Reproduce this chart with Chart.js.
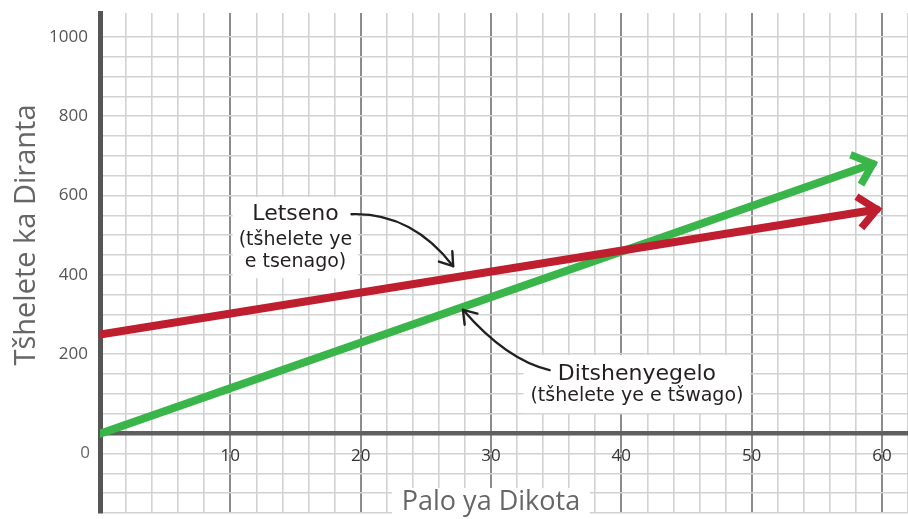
<!DOCTYPE html>
<html>
<head>
<meta charset="utf-8">
<script src="https://cdn.jsdelivr.net/npm/chart.js@4.4.1/dist/chart.umd.min.js"></script>
<style>
  html, body { margin: 0; padding: 0; background: #fff; }
  #wrap { width: 908px; height: 519px; }
</style>
</head>
<body>
<div id="wrap"><canvas id="chart" width="908" height="519"></canvas></div>
<script>
// axes
const X_MIN = 0, X_MAX = 62, X_STEP = 2;
const Y_MIN = -200, Y_MAX = 1060, Y_STEP = 50, Y_GRID_TOP = 1000;
const xTickLabels = [10, 20, 30, 40, 50, 60];
const yTickLabels = [200, 400, 600, 800, 1000];

// series (Palo ya Dikota -> Diranta)
const incomeX = [0, 59.6];
const incomeY = [250, 565];
const costX = [0, 59.3];
const costY = [0, 680];

const RED = "#BE1E2D";
const GREEN = "#39B54A";
const INK = "#231F20";

const toPoints = (xs, ys) => xs.map((x, i) => ({ x, y: ys[i] }));

function range(from, to, step) {
    const out = [];
    for (let v = from; v <= to + 1e-9; v += step) out.push(v);
    return out;
}

// chevron at the end of each line
const arrowHeads = {
    id: "arrowHeads",
    afterDatasetsDraw(chart) {
        const ctx = chart.ctx;
        chart.data.datasets.forEach((ds, i) => {
            const pts = chart.getDatasetMeta(i).data;
            const a = pts[pts.length - 2], b = pts[pts.length - 1];
            const ang = Math.atan2(b.y - a.y, b.x - a.x);
            const len = 24, spread = 0.72;
            ctx.save();
            ctx.strokeStyle = ds.borderColor;
            ctx.lineWidth = 7.5;
            ctx.lineJoin = "miter";
            ctx.lineCap = "butt";
            ctx.beginPath();
            ctx.moveTo(b.x - len * Math.cos(ang - spread), b.y - len * Math.sin(ang - spread));
            ctx.lineTo(b.x, b.y);
            ctx.lineTo(b.x - len * Math.cos(ang + spread), b.y - len * Math.sin(ang + spread));
            ctx.stroke();
            ctx.restore();
        });
    },
};

function openHead(ctx, x, y, ang, len) {
    ctx.beginPath();
    ctx.moveTo(x - len * Math.cos(ang - 0.6), y - len * Math.sin(ang - 0.6));
    ctx.lineTo(x, y);
    ctx.lineTo(x - len * Math.cos(ang + 0.6), y - len * Math.sin(ang + 0.6));
    ctx.stroke();
}

function boxedText(ctx, lines, cx, cy, pad) {
    let w = 0;
    lines.forEach(l => { ctx.font = l.font; w = Math.max(w, ctx.measureText(l.text).width); });
    const top = cy + lines[0].dy - lines[0].h / 2 - pad;
    const bottom = cy + lines[lines.length - 1].dy + lines[lines.length - 1].h / 2 + pad;
    ctx.fillStyle = "#fff";
    ctx.fillRect(cx - w / 2 - pad, top, w + 2 * pad, bottom - top);
    ctx.fillStyle = INK;
    ctx.textAlign = "center";
    ctx.textBaseline = "middle";
    lines.forEach(l => { ctx.font = l.font; ctx.fillText(l.text, cx, cy + l.dy); });
}

const notes = {
    id: "notes",
    beforeDatasetsDraw(chart) {
        const ctx = chart.ctx;
        const { x: sx, y: sy } = chart.scales;
        ctx.save();
        // x axis title on white box
        const tx = sx.getPixelForValue(30);
        const tb = chart.height;
        ctx.fillStyle = "#fff";
        ctx.fillRect(tx - 99, tb - 31, 198, 31);
        ctx.fillStyle = "#666";
        ctx.font = "27px 'Open Sans'";
        ctx.textAlign = "center";
        ctx.textBaseline = "alphabetic";
        ctx.fillText("Palo ya Dikota", tx, tb - 9);
        // y axis title
        ctx.translate(27, 235);
        ctx.rotate(-Math.PI / 2);
        ctx.textBaseline = "middle";
        ctx.font = "29px 'Open Sans'";
        ctx.fillText("Tšhelete ka Diranta", 0, 0);
        ctx.restore();

        ctx.save();
        // origin label
        ctx.fillStyle = "#666";
        ctx.font = "17px 'Open Sans'";
        ctx.textAlign = "center";
        ctx.textBaseline = "middle";
        ctx.fillText("0", sx.getPixelForValue(0) - 15, sy.getPixelForValue(0) + 20);

        // Letseno label
        boxedText(ctx, [
            { text: "Letseno", font: "22px 'DejaVu Sans'", dy: 0, h: 22 },
            { text: "(tšhelete ye", font: "19px 'DejaVu Sans'", dy: 26, h: 20 },
            { text: "e tsenago)", font: "19px 'DejaVu Sans'", dy: 48, h: 20 },
        ], sx.getPixelForValue(15), sy.getPixelForValue(553), 6);

        // Ditshenyegelo label
        boxedText(ctx, [
            { text: "Ditshenyegelo", font: "22px 'DejaVu Sans'", dy: 0, h: 24 },
            { text: "(tšhelete ye e tšwago)", font: "19px 'DejaVu Sans'", dy: 22, h: 20 },
        ], sx.getPixelForValue(41.2), sy.getPixelForValue(150), 7);
        ctx.restore();
    },
    afterDatasetsDraw(chart) {
        const ctx = chart.ctx;
        const { x: sx, y: sy } = chart.scales;
        const p = (x, y) => [sx.getPixelForValue(x), sy.getPixelForValue(y)];
        ctx.save();
        ctx.strokeStyle = INK;
        ctx.lineWidth = 2.4;
        ctx.lineCap = "round";
        ctx.lineJoin = "round";
        const curves = [
            [p(19.3, 553), p(23.9, 558), p(27.1, 422)],
            [p(34.5, 160), p(31.2, 185), p(27.85, 312)],
        ];
        curves.forEach(([s, c, e]) => {
            ctx.beginPath();
            ctx.moveTo(s[0], s[1]);
            ctx.quadraticCurveTo(c[0], c[1], e[0], e[1]);
            ctx.stroke();
            openHead(ctx, e[0], e[1], Math.atan2(e[1] - c[1], e[0] - c[0]), 15);
        });
        ctx.restore();
    },
};

new Chart(document.getElementById("chart"), {
    type: "scatter",
    data: {
        datasets: [
            {
                label: "Letseno",
                data: toPoints(incomeX, incomeY),
                showLine: true,
                borderColor: RED,
                borderWidth: 8,
                borderCapStyle: "round",
                pointRadius: 0,
            },
            {
                label: "Ditshenyegelo",
                data: toPoints(costX, costY),
                showLine: true,
                borderColor: GREEN,
                borderWidth: 8,
                borderCapStyle: "round",
                pointRadius: 0,
            },
        ],
    },
    options: {
        responsive: false,
        animation: false,
        devicePixelRatio: 1,
        layout: { padding: { top: 13, bottom: 6, left: 0, right: 0 } },
        plugins: { legend: { display: false }, tooltip: { enabled: false } },
        scales: {
            x: {
                type: "linear",
                min: X_MIN,
                max: X_MAX,
                position: { y: 0 },
                afterBuildTicks: (s) => { s.ticks = range(X_MIN, X_MAX, X_STEP).map(v => ({ value: v })); },
                afterFit: (s) => { s.height = 0; s.paddingLeft = 0; s.paddingRight = 0; },
                ticks: {
                    autoSkip: false,
                    maxRotation: 0,
                    padding: 12,
                    color: "#333",
                    font: { family: "'Open Sans'", size: 17 },
                    callback: (v) => xTickLabels.includes(v) ? String(v) : "",
                },
                grid: {
                    drawTicks: false,
                    color: (c) => (c.tick && c.tick.value % 10 === 0) ? "#8c8c8c" : "#d2d2d2",
                    lineWidth: (c) => (c.tick && c.tick.value % 10 === 0) ? 2 : 1.6,
                },
                border: { display: true, color: "#5f5f5f", width: 4.5 },
            },
            y: {
                type: "linear",
                min: Y_MIN,
                max: Y_MAX,
                position: "left",
                afterBuildTicks: (s) => { s.ticks = range(Y_MIN, Y_GRID_TOP, Y_STEP).map(v => ({ value: v })); },
                afterFit: (s) => { s.width = 100; s.paddingTop = 0; s.paddingBottom = 0; },
                ticks: {
                    autoSkip: false,
                    padding: 12,
                    color: "#555",
                    font: { family: "'Open Sans'", size: 17 },
                    callback: (v) => yTickLabels.includes(v) ? String(v) : "",
                },
                grid: {
                    drawTicks: false,
                    color: "#d2d2d2",
                    lineWidth: 1.6,
                },
                border: { display: true, color: "#555", width: 5 },
            },
        },
    },
    plugins: [notes, arrowHeads],
});
</script>
</body>
</html>
